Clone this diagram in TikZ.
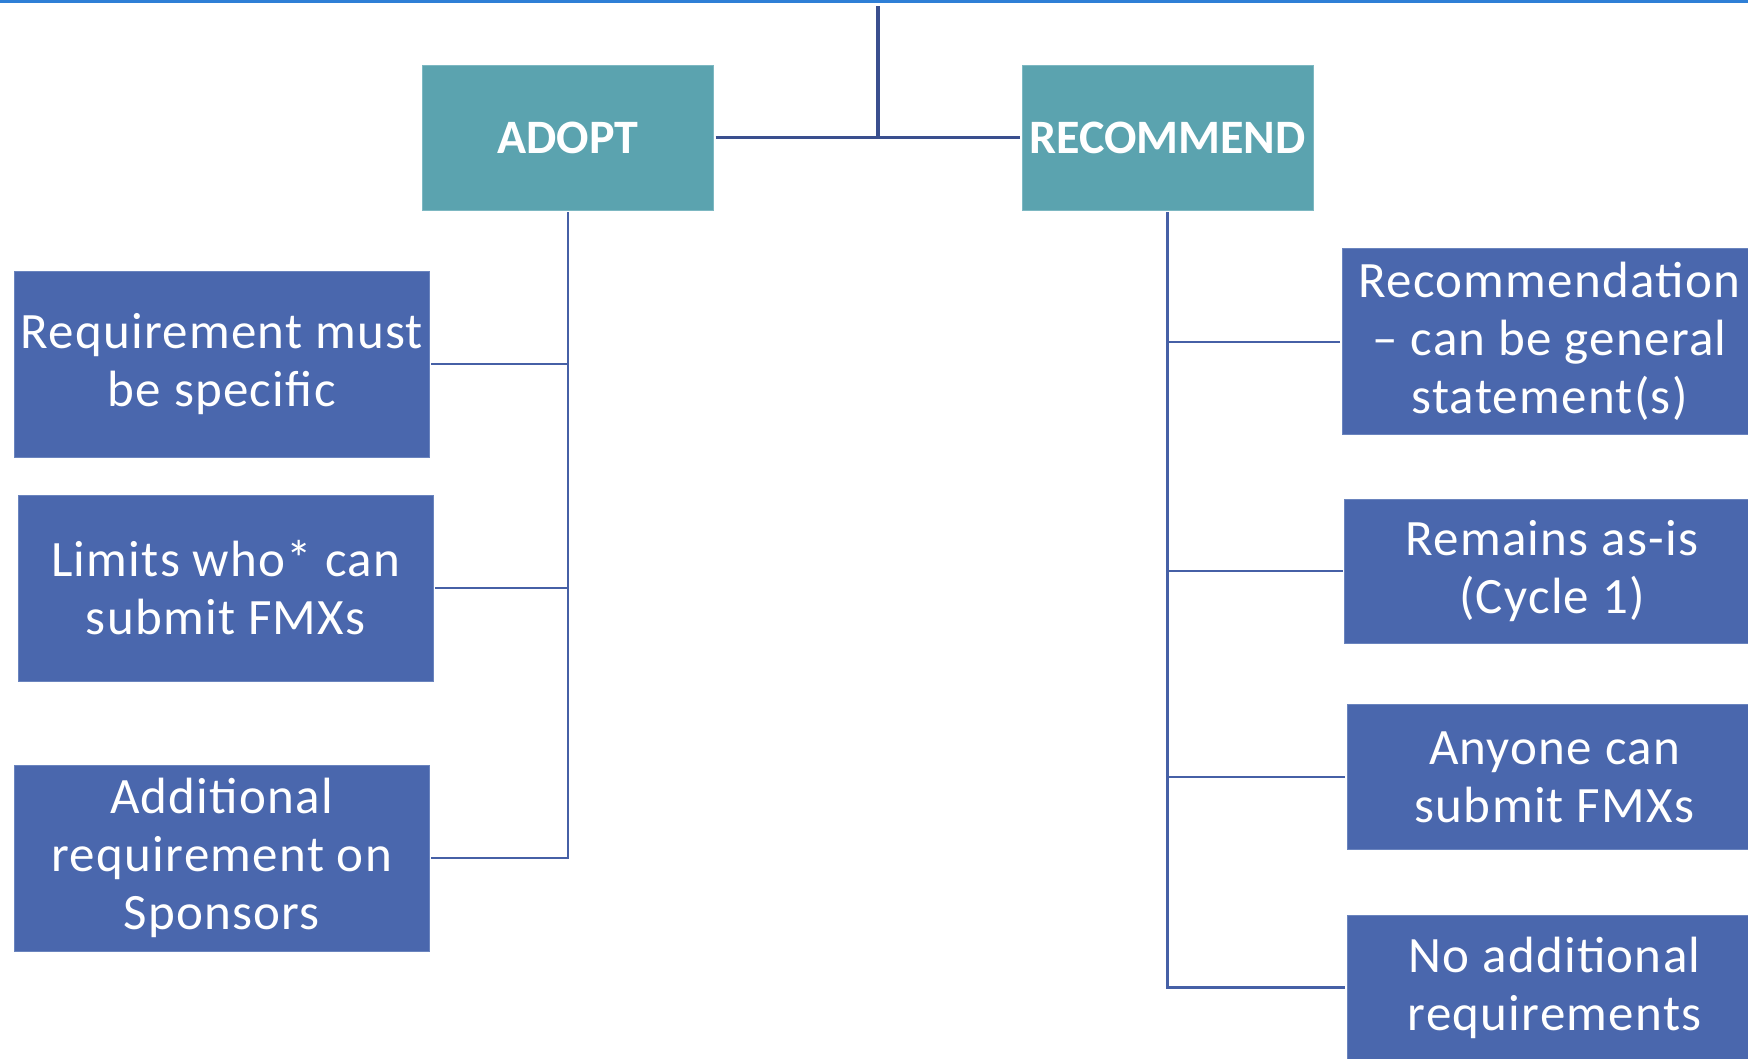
\documentclass[tikz,border=0pt]{standalone}
\usepackage{fontspec}
\setmainfont{Carlito}
\newfontfamily\itemfont[LetterSpace=2.5]{Carlito}
\definecolor{boxblue}{HTML}{4A67AD}
\definecolor{boxedge}{HTML}{6A84BE}
\definecolor{teal}{HTML}{5BA3AF}
\definecolor{tealedge}{HTML}{7DB8C2}
\definecolor{navy}{HTML}{3A4F8E}
\definecolor{linkblue}{HTML}{4660A6}
\definecolor{topblue}{HTML}{2F7FD6}
\tikzset{
  headbox/.style={rectangle, fill=teal, draw=tealedge, line width=0.8pt,
    minimum width=291pt, minimum height=145pt, inner sep=0pt, outer sep=2pt,
    text=white, font=\fontsize{48}{56}\selectfont\bfseries, align=center},
  itembox/.style={rectangle, fill=boxblue, draw=boxedge, line width=0.8pt,
    minimum width=415pt, inner sep=0pt, outer sep=2pt,
    text=white, font=\itemfont\fontsize{51}{58}\selectfont, align=center},
  mainline/.style={draw=navy, line width=3.5pt},
  childline/.style={draw=linkblue, line width=2.2pt}
}
\begin{document}
\begin{tikzpicture}[x=1pt,y=-1pt]
\useasboundingbox (0,0) rectangle (1748,1058);
\clip (0,0) rectangle (1748,1058);
\fill[topblue] (0,0) rectangle (1748,3);
% head boxes
\node[headbox] (adopt) at (568,137.5) {ADOPT};
\node[headbox] (rec) at (1167.5,137.5) {RECOMMEND};
% left items
\node[itembox, minimum height=186pt] (l1) at (221.7,364) {Requirement must\\be specific};
\node[itembox, minimum height=186pt] (l2) at (225.7,588) {Limits who* can\\submit FMXs};
\node[itembox, minimum height=186pt] (l3) at (221.7,858) {Additional\\requirement on\\Sponsors};
% right items
\node[itembox, minimum height=186pt] (r1) at (1549.5,341.7) {Recommendation\\– can be general\\statement(s)};
\node[itembox, minimum height=144pt] (r2) at (1552,571) {Remains as-is\\(Cycle 1)};
\node[itembox, minimum height=145pt] (r3) at (1554.5,777) {Anyone can\\submit FMXs};
\node[itembox, minimum height=145pt] (r4) at (1554.5,987.5) {No additional\\requirements};
% top connectors
\coordinate (top) at (878,6);
\draw[mainline] (top) -- (top |- adopt.east);
\draw[mainline] (adopt.east) -- (rec.west);
% left tree
\draw[childline] (adopt.south) -- (adopt.south |- l3.east) -- (l3.east);
\draw[childline] (l1.east) -- (l1.east -| adopt.south);
\draw[childline] (l2.east) -- (l2.east -| adopt.south);
% right tree
\draw[childline] (rec.south) -- (rec.south |- r4.west) -- (r4.west);
\draw[childline] (r1.west) -- (r1.west -| rec.south);
\draw[childline] (r2.west) -- (r2.west -| rec.south);
\draw[childline] (r3.west) -- (r3.west -| rec.south);
\end{tikzpicture}
\end{document}
